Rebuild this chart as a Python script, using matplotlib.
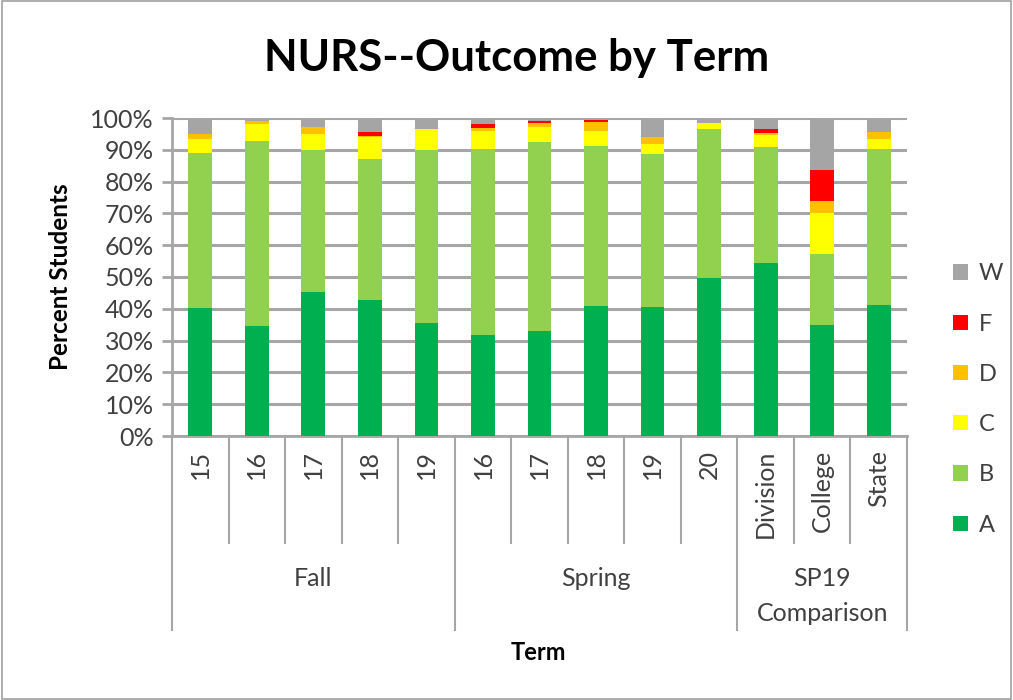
import numpy as np
import matplotlib
matplotlib.use("Agg")
import matplotlib.pyplot as plt
from matplotlib.transforms import blended_transform_factory
from matplotlib.patches import Rectangle

# categories on the x axis, grouped
CATEGORIES = ["15", "16", "17", "18", "19",
              "16", "17", "18", "19", "20",
              "Division", "College", "State"]
GROUPS = ["Fall", "Spring", "SP19\nComparison"]
GROUP_SIZES = [5, 5, 3]

# percent of students per grade
A = [40.3, 34.6, 45.3, 42.8, 35.4, 31.7, 33.0, 40.9, 40.5, 49.8, 54.5, 34.9, 41.2]
B = [48.8, 58.3, 44.7, 44.2, 54.6, 58.7, 59.6, 50.4, 48.1, 46.7, 36.3, 22.3, 49.0]
C = [4.4, 5.1, 5.1, 7.0, 6.5, 5.5, 4.7, 4.6, 3.2, 1.9, 3.8, 12.8, 3.3]
D = [1.6, 0.9, 2.2, 0.2, 0.1, 1.1, 1.1, 2.8, 2.2, 0.0, 0.8, 4.0, 2.2]
F = [0.0, 0.0, 0.0, 1.5, 0.0, 1.0, 0.5, 0.8, 0.0, 0.0, 1.1, 9.7, 0.0]
W = [4.9, 1.1, 2.7, 4.3, 3.4, 2.0, 1.1, 0.5, 6.0, 1.6, 3.5, 16.3, 4.3]

GRADES = ["A", "B", "C", "D", "F", "W"]
COLORS = {"A": "#00B050", "B": "#92D050", "C": "#FFFF00",
          "D": "#FFC000", "F": "#FF0000", "W": "#A5A5A5"}

W_PX, H_PX = 1013, 700
GRID = "#A6A6A6"
TXT = "#404040"

plt.rcParams["font.family"] = ["Lato", "DejaVu Sans"]


def fy(py):
    # pixel row (from top) -> figure fraction
    return 1 - py / H_PX


fig = plt.figure(figsize=(W_PX / 100, H_PX / 100), dpi=100)
ax = fig.add_axes([172 / W_PX, fy(436), (907 - 172) / W_PX, (436 - 118) / H_PX])

x = np.arange(len(CATEGORIES))
series = {"A": A, "B": B, "C": C, "D": D, "F": F, "W": W}
bottom = np.zeros(len(CATEGORIES))
bars = {}
for g in GRADES:
    vals = np.array(series[g]) / 100.0
    bars[g] = ax.bar(x, vals, width=0.42, bottom=bottom, color=COLORS[g],
                     label=g, zorder=3, linewidth=0)
    bottom += vals

ax.set_xlim(-0.5, len(CATEGORIES) - 0.5)
ax.set_ylim(0, 1)
ax.set_yticks(np.arange(0, 1.01, 0.1))
ax.set_yticklabels([f"{int(round(v * 100))}%" for v in np.arange(0, 1.01, 0.1)],
                   fontsize=18, color=TXT)
ax.yaxis.grid(True, color=GRID, linewidth=2.2, zorder=0)
ax.set_axisbelow(True)
ax.tick_params(axis="y", length=7, width=2, color=GRID, pad=6)
ax.tick_params(axis="x", length=0, labelbottom=False)
for s in ["top", "right"]:
    ax.spines[s].set_visible(False)
ax.spines["left"].set_color(GRID)
ax.spines["left"].set_linewidth(2)
ax.spines["bottom"].set_color(GRID)
ax.spines["bottom"].set_linewidth(2)

# multi-level category axis
tr = blended_transform_factory(ax.transData, fig.transFigure)
for i, lab in enumerate(CATEGORIES):
    ax.text(i, fy(450), lab, rotation=90, ha="center", va="top",
            fontsize=18, color=TXT, transform=tr)

edges = np.cumsum([0] + GROUP_SIZES) - 0.5
for i in range(len(CATEGORIES) + 1):
    xe = i - 0.5
    long_line = np.any(np.isclose(edges, xe))
    bot = fy(630) if long_line else fy(543)
    ax.plot([xe, xe], [fy(436), bot], color=GRID, linewidth=1.5,
            transform=tr, clip_on=False)

for gi, name in enumerate(GROUPS):
    center = (edges[gi] + edges[gi + 1]) / 2
    ax.text(center, fy(567), name, ha="center", va="top", fontsize=18,
            color=TXT, linespacing=1.62, transform=tr)

fig.text(538 / W_PX, fy(652), "Term", ha="center", va="center",
         fontsize=17, fontweight="bold", color="black")
fig.text(60 / W_PX, fy(277), "Percent Students", ha="center", va="center",
         rotation=90, fontsize=17.5, fontweight="bold", color="black")
fig.text(517 / W_PX, fy(58), "NURS--Outcome by Term", ha="center",
         va="center", fontsize=31.5, fontweight="bold", color="black")

handles = [bars[g] for g in GRADES[::-1]]
leg = fig.legend(handles, GRADES[::-1], loc="upper left",
                 bbox_to_anchor=(932 / W_PX, fy(242)), frameon=False,
                 fontsize=17, handlelength=0.62, handleheight=0.62,
                 handletextpad=0.45, labelspacing=1.24)
for t in leg.get_texts():
    t.set_color(TXT)

fig.patches.append(Rectangle((0.002, 0.002), 0.996, 0.996,
                             transform=fig.transFigure, fill=False,
                             edgecolor="#A0A0A0", linewidth=1.2))

fig.savefig("out.png", dpi=100)
